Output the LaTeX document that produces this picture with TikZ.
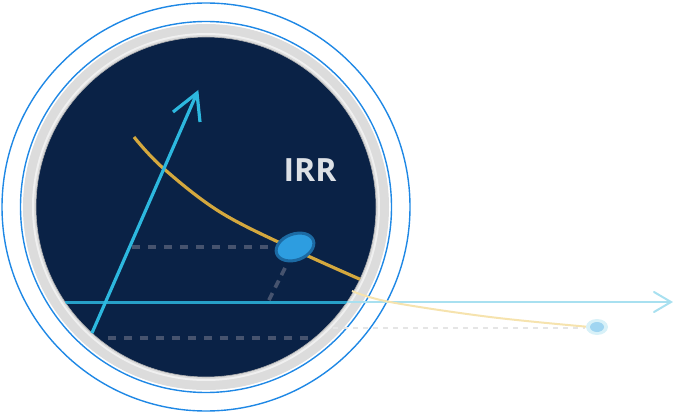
\documentclass[tikz,border=0pt]{standalone}
\usepackage{fontspec}
\newfontfamily\irrfont{Open Sans}
\usetikzlibrary{calc}
\definecolor{navy}{HTML}{0A2246}
\definecolor{ringgray}{HTML}{DCDCDC}
\definecolor{ringblue}{HTML}{1F88E5}
\definecolor{axisstrong}{HTML}{27A0C8}
\definecolor{axislight}{HTML}{A8E0F0}
\definecolor{vecblue}{HTML}{2DB8DF}
\definecolor{gold}{HTML}{D4A83E}
\definecolor{goldlight}{HTML}{F6E3AE}
\definecolor{dashgray}{HTML}{46536E}
\definecolor{dotblue}{HTML}{2D9DE0}
\definecolor{dotrim}{HTML}{1C6AA3}
\definecolor{labelgray}{HTML}{DDE1E6}
\tikzset{
  thinring/.style={draw=ringblue, line width=1.4pt},
  guide/.style={draw=dashgray, line width=3.6pt, dash pattern=on 8pt off 8pt},
  faintguide/.style={draw=black!10, line width=1.5pt, dash pattern=on 5pt off 5pt},
  vec/.style={draw=vecblue, line width=3.2pt, line cap=butt},
}
\begin{document}
\begin{tikzpicture}[x=1pt,y=-1pt]
\useasboundingbox (0,0) rectangle (674,414);
\coordinate (c) at (206,207);
% rings
\draw[thinring] (c) circle[radius=204];
\draw[thinring] (c) circle[radius=185.5];
\fill[ringgray] (c) circle[radius=183];
\fill[black!6] (c) circle[radius=174];
\fill[ringgray] (c) circle[radius=172];
\fill[navy] (c) circle[radius=170];
\draw[black!30, line width=0.6pt] (c) circle[radius=170];
% light axis (outside part)
\coordinate (ax0) at (65,302);
\coordinate (ax1) at (671,302);
\draw[axislight, line width=2pt] (ax0) -- (ax1);
\draw[axislight, line width=2pt, line cap=round, line join=miter] ($(ax1)+(-17,-10)$) -- (ax1) -- ($(ax1)+(-17,10)$);
% faint outside guide
\coordinate (fg0) at (333,328);
\coordinate (fg1) at (585,328);
\draw[faintguide] (fg0) -- (fg1);
% faded curve
\draw[goldlight, line width=2pt] plot[smooth, tension=0.6] coordinates {(352,291) (390,302) (490,317) (590,327)};
% small end dot
\coordinate (enddot) at (597,327);
\fill[axislight!45] (enddot) ellipse (11 and 8);
\fill[axislight!95!blue] (enddot) ellipse (7 and 5);
% inside
\begin{scope}
\clip (c) circle[radius=170];
\draw[axisstrong, line width=3pt] (ax0) -- (ax1);
\coordinate (g1a) at (132,247);
\coordinate (g1b) at (280,247);
\draw[guide] (g1a) -- (g1b);
\coordinate (g2a) at (108,338);
\coordinate (g2b) at (310,338);
\draw[guide] (g2a) -- (g2b);
\coordinate (g3a) at (285,268);
\coordinate (g3b) at (268,302);
\draw[guide, dash pattern=on 8pt off 6pt] (g3a) -- (g3b);
\draw[gold, line width=3.2pt] plot[smooth, tension=0.6] coordinates {(134,137) (163,168) (220,212) (293,249) (364,281)};
\end{scope}
% vector arrow
\coordinate (v0) at (92,333);
\coordinate (v1) at (197,93);
\draw[vec] (v0) -- (v1);
\draw[vec, line join=miter] (173,112) -- (v1) -- (200,122);
% blue dot
\coordinate (dot) at (295,247);
\draw[dotrim, line width=3pt, fill=dotblue, rotate around={20:(dot)}] (dot) ellipse (19.5 and 13);
% label
\node[font=\irrfont\bfseries\fontsize{32}{32}\selectfont, text=labelgray, inner sep=0pt] (irr) at (310,170) {IRR};
\end{tikzpicture}
\end{document}
